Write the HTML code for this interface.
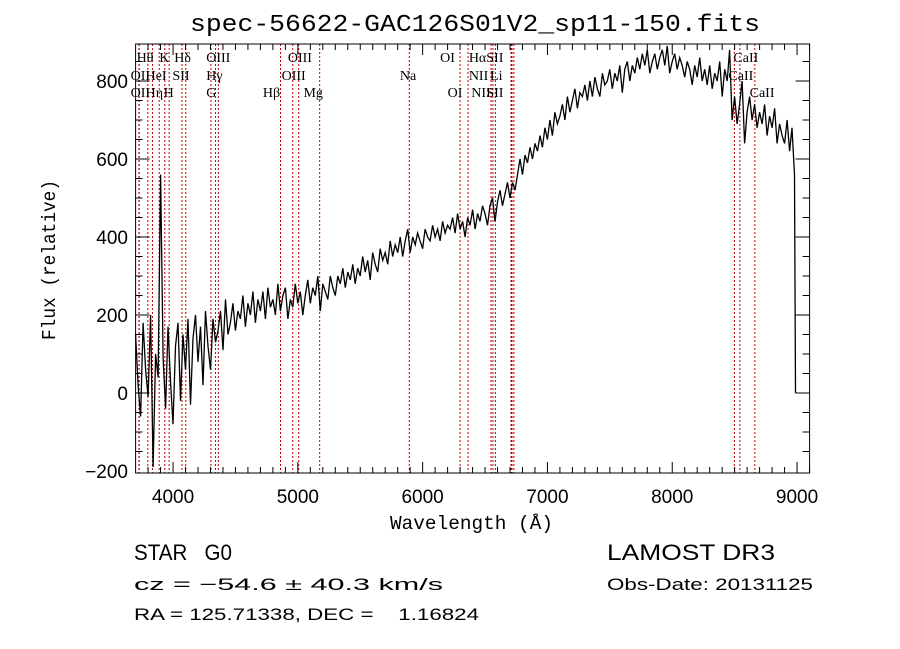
<!DOCTYPE html>
<html><head><meta charset="utf-8"><style>
html,body{margin:0;padding:0;background:#fff;width:900px;height:649px;overflow:hidden}
svg{display:block}
text{font-family:"Liberation Serif",serif;fill:#000}
.m{font-family:"Liberation Mono",monospace}
.s{font-family:"Liberation Sans",sans-serif}
</style></head><body>
<svg id="chart" width="900" height="649" viewBox="0 0 900 649" xmlns="http://www.w3.org/2000/svg">
<text class="m" x="190" y="31" font-size="24" textLength="570" lengthAdjust="spacingAndGlyphs">spec-56622-GAC126S01V2_sp11-150.fits</text>
<g id="lines"></g>
<g id="labels"></g>
<path id="spec" fill="none" stroke="#000" stroke-width="1.3"/>
<rect x="135.6" y="44" width="674" height="429" fill="none" stroke="#000" stroke-width="1"/>
<g id="axes"></g>
<text class="m" x="390" y="529" font-size="19" textLength="163" lengthAdjust="spacingAndGlyphs">Wavelength (Å)</text>
<text class="m" transform="translate(55,340) rotate(-90)" font-size="19" textLength="160" lengthAdjust="spacingAndGlyphs">Flux (relative)</text>
<text class="s" x="134" y="560" font-size="22" textLength="98" lengthAdjust="spacingAndGlyphs" xml:space="preserve">STAR   G0</text>
<text class="s" x="607" y="560" font-size="22" textLength="168" lengthAdjust="spacingAndGlyphs">LAMOST DR3</text>
<text class="s" x="134" y="590" font-size="17" textLength="309" lengthAdjust="spacingAndGlyphs">cz = −54.6 ± 40.3 km/s</text>
<text class="s" x="607" y="590" font-size="17" textLength="206" lengthAdjust="spacingAndGlyphs">Obs-Date: 20131125</text>
<text class="s" x="134" y="620" font-size="17" textLength="345" lengthAdjust="spacingAndGlyphs" xml:space="preserve">RA = 125.71338, DEC =    1.16824</text>
</svg>
<script>
const waveStart = 3700;
const waveStep = 20;
const flux = [150,20,-60,180,60,-10,200,-190,100,40,
560,90,-40,170,30,-80,120,180,-20,150,
60,190,-30,140,200,80,170,20,210,120,
60,190,130,160,210,110,240,150,180,230,
160,210,190,250,170,230,200,260,180,240,
210,260,190,270,220,240,200,280,210,250,
270,190,240,220,280,230,260,200,250,290,
230,270,250,300,210,280,260,240,300,270,
250,300,280,320,270,310,290,330,280,320,
300,350,310,340,290,360,330,310,370,340,
360,330,390,350,380,360,400,350,390,420,
360,400,380,410,390,370,420,400,390,430,
400,420,390,440,410,430,420,450,410,460,
420,440,400,450,430,470,420,460,440,480,
460,430,480,500,440,490,520,480,510,540,
500,540,520,560,600,560,610,590,630,600,
640,620,660,630,680,650,700,660,720,690,
710,740,700,760,720,750,780,730,770,760,
790,750,800,760,810,780,760,820,790,800,
830,780,820,800,840,770,830,850,800,840,
820,860,830,870,840,880,820,850,870,830,
860,880,840,890,820,850,870,830,860,840,
810,850,830,790,840,810,860,800,830,790,
840,780,820,800,850,760,830,800,880,700,
760,690,740,800,640,720,760,700,740,680,
720,690,740,660,710,680,730,640,690,660,
640,700,620,680,560,0];
const lineWaves = [3727,3729,3798,3835,3889,3934,3969,4072,4102,4304,4340,4363,4861,4959,5007,5175,5893,6300,6364,6548,6563,6583,6708,6716,6731,8498,8542,8662];
const labelText = ["Hθ","K","Hδ","OIII","OIII","OI","HαSII","CaII",
"OII","HeI","SII","Hγ","OIII","Na","NII","Li","CaII",
"OII","Hη","H","G","Hβ","Mg","OI","NII","SII","CaII"];
const labelWave = [3708,3890,4010,4266,4920,6140,6370,8490,
3660,3780,3995,4266,4870,5818,6370,6540,8450,
3660,3780,3925,4266,4720,5045,6200,6390,6510,8620];
const labelRow = [0,0,0,0,0,0,0,0,1,1,1,1,1,1,1,1,1,2,2,2,2,2,2,2,2,2,2];
const xTicks = [4000,5000,6000,7000,8000,9000];
const yTicks = [-200,0,200,400,600,800];

const X = w => 135.6 + (w-3700)*0.1248;
const Y = v => 393 - v*0.39;
const NS = "http://www.w3.org/2000/svg";
function mk(tag, parent){const e=document.createElementNS(NS,tag);parent.appendChild(e);return e;}

const lg = document.getElementById('lines');
lineWaves.forEach(w=>{
  const l = mk('line', lg);
  
  
  l.setAttribute('x1',X(w));l.setAttribute('x2',X(w));
  l.setAttribute('y1',44);l.setAttribute('y2',473);
  l.setAttribute('stroke','#c00000');l.setAttribute('stroke-width','1');
  l.setAttribute('stroke-dasharray','2,2');
});
const lb = document.getElementById('labels');
labelText.forEach((t,i)=>{
  const e = mk('text', lb);
  
  
  e.setAttribute('x',X(labelWave[i]));
  e.setAttribute('y',[62,80,97][labelRow[i]]);
  e.setAttribute('font-size','14');
  e.textContent = t;
});
let d='';
flux.forEach((v,i)=>{
  const w = i===flux.length-1 ? waveStart+(i-1)*waveStep+8 : waveStart+i*waveStep;
  d+=(i?'L':'M')+X(w).toFixed(1)+','+Y(v).toFixed(1);
});
document.getElementById('spec').setAttribute('d',d);

const ax = document.getElementById('axes');
function tick(x1,y1,x2,y2){const l=mk('line',ax);
  
  
  l.setAttribute('x1',x1);l.setAttribute('y1',y1);l.setAttribute('x2',x2);l.setAttribute('y2',y2);l.setAttribute('stroke','#000');}
for(let w=3800; w<=9100; w+=100){const big=w%1000===0;const L=big?11:6;
  tick(X(w),473,X(w),473-L); tick(X(w),44,X(w),44+L);}
for(let v=-150; v<=850; v+=50){const big=v%200===0;const L=big?14:7;
  tick(135.6,Y(v),135.6+L,Y(v)); tick(809.6,Y(v),809.6-L,Y(v));}
xTicks.forEach(w=>{const t=mk('text',ax);
  
  
  t.setAttribute('class','s');t.setAttribute('x',X(w));t.setAttribute('y',503);
  t.setAttribute('font-size','19');t.setAttribute('text-anchor','middle');t.textContent=w;});
yTicks.forEach(v=>{const t=mk('text',ax);
  
  
  t.setAttribute('class','s');t.setAttribute('x',128);t.setAttribute('y',Y(v)+7);
  t.setAttribute('font-size','19');t.setAttribute('text-anchor','end');t.textContent=(v<0?'−':'')+Math.abs(v);});
</script>
</body></html>
